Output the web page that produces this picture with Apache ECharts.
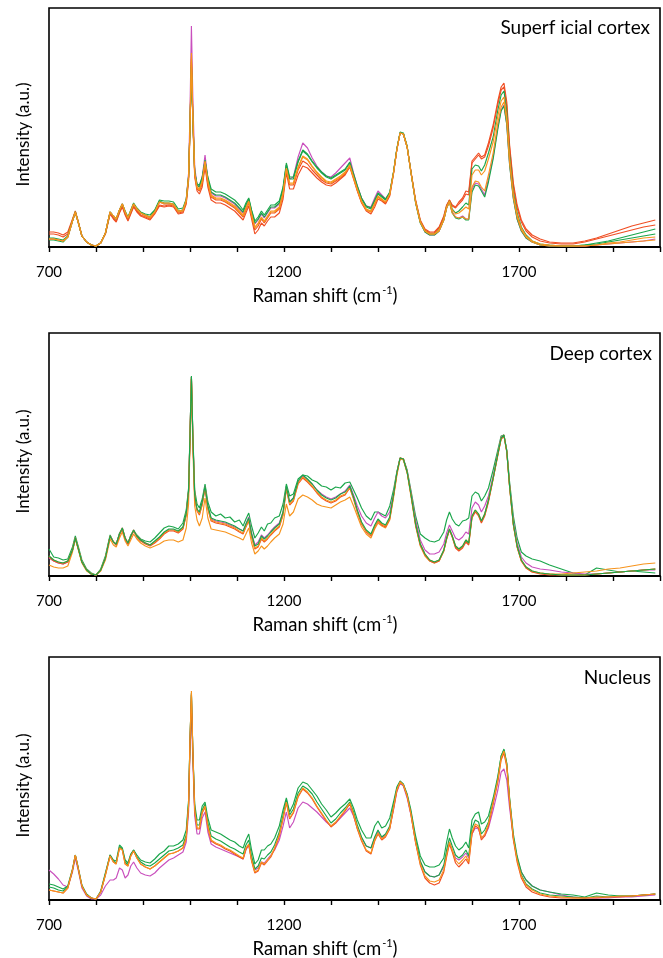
<!DOCTYPE html>
<html>
<head>
<meta charset="utf-8">
<script src="https://cdn.jsdelivr.net/npm/echarts@6/dist/echarts.min.js"></script>
<style>
  html, body { margin: 0; padding: 0; background: #fff; }
  #chart { width: 663px; height: 958px; }
</style>
</head>
<body>
<div id="chart"></div>
<script>
// Raman shift sampling points (cm-1), shared by all three spectra sets
const wavenumbers = [
  700,710,720,730,740,750,756,762,770,780,
  790,800,810,820,830,837,843,850,856,862,
  868,874,880,887,895,905,915,925,935,945,
  955,965,975,985,992,997,1000,1003,1006,1010,
  1015,1020,1026,1032,1038,1045,1055,1065,1075,1085,
  1095,1105,1113,1119,1125,1131,1138,1145,1152,1158,
  1165,1172,1180,1190,1198,1205,1212,1220,1230,1240,
  1250,1260,1270,1280,1290,1300,1310,1320,1330,1340,
  1348,1356,1365,1375,1385,1393,1400,1408,1416,1425,
  1433,1440,1447,1454,1462,1470,1480,1490,1500,1510,
  1520,1530,1540,1546,1552,1558,1565,1572,1580,1587,
  1593,1600,1607,1614,1620,1627,1635,1645,1655,1662,
  1668,1674,1680,1688,1696,1705,1715,1728,1745,1765,
  1790,1815,1840,1865,1890,1915,1940,1965,1990
];
const tickLabels = [700, 1200, 1700];

// ---- Superficial cortex spectra (arbitrary intensity units) ----
const supMagenta = [
  8,8,7,6,10,26,35,25,11,5, 2,1,4,14,35,31,28,37,43,35,
  29,36,43,38,34,31,29,35,45,43, 43,42,35,36,47,74,135,221,150,80,
  62,60,70,92,68,54,51,51,49,46, 43,38,34,41,47,35,23,27,33,29,
  34,39,39,43,57,82,68,70,90,104, 99,89,81,75,71,70,74,79,84,89,
  74,61,49,41,40,49,56,52,48,54, 74,97,114,113,100,75,45,25,15,12,
  12,16,27,39,46,35,30,29,31,28, 28,58,64,63,58,52,68,90,120,137,
  142,123,83,49,28,16,9,5,2,1, 1,1,1,2,3,4,5,6,8
];
const supRed1 = [
  15,15,14,12,15,28,36,26,11,5, 2,1,4,13,33,28,25,34,40,32,
  26,33,40,35,31,29,27,33,41,40, 41,40,33,34,43,66,116,185,126,70,
  56,53,60,80,60,47,44,44,42,39, 36,31,27,34,41,28,13,17,24,21,
  26,30,30,34,48,74,58,58,72,81, 79,74,69,65,62,61,64,68,72,80,
  68,56,44,36,33,40,48,46,43,51, 73,97,114,113,100,76,47,27,18,15,
  15,20,31,42,47,42,40,45,49,56, 55,86,90,94,90,92,104,122,146,160,
  164,145,102,64,42,27,18,12,8,5, 4,4,6,9,13,17,21,24,27
];
const supRed2 = [
  13,13,12,10,13,27,35,25,11,5, 2,1,4,13,34,29,26,35,41,33,
  27,34,41,36,32,30,28,34,42,41, 42,41,34,35,45,68,118,188,128,72,
  58,56,63,83,63,50,47,47,45,42, 39,34,30,37,44,31,17,21,28,24,
  29,34,34,38,52,77,62,62,77,86, 83,77,72,67,64,63,66,69,73,81,
  70,57,45,37,35,43,50,47,44,52, 74,97,114,113,100,76,46,26,17,14,
  14,19,30,41,47,41,39,43,47,53, 52,84,88,92,88,90,101,119,143,157,
  160,141,99,61,39,25,16,10,6,4, 3,3,5,8,11,14,17,20,22
];
const supGreen2 = [
  7,7,6,5,10,26,35,25,11,5, 2,1,4,14,35,31,28,37,43,36,
  30,37,44,39,35,33,32,37,47,46, 46,45,38,39,48,71,120,180,128,75,
  63,62,70,87,70,58,55,55,53,50, 47,42,37,44,49,37,26,30,36,32,
  37,42,42,46,60,84,70,70,86,97, 93,86,80,75,71,69,72,75,78,85,
  73,61,49,41,39,47,54,51,48,55, 75,98,115,114,101,75,44,24,15,12,
  12,16,27,39,45,34,29,28,30,27, 27,55,62,61,56,50,65,88,118,136,
  141,122,82,48,28,16,9,5,2,1, 1,1,2,3,5,7,9,11,13
];
const supGreen1 = [
  9,9,8,7,11,26,35,25,11,5, 2,1,4,14,35,31,28,37,43,35,
  29,36,43,38,34,32,30,36,46,44, 44,43,36,37,47,70,120,182,130,75,
  62,60,68,86,68,55,52,52,50,47, 44,39,35,42,48,36,24,28,34,30,
  35,40,40,44,58,82,68,68,85,96, 92,85,79,74,70,68,71,74,77,84,
  72,60,48,40,38,46,53,50,47,54, 75,98,114,113,100,75,45,25,16,13,
  13,17,28,40,46,38,34,36,40,44, 42,78,82,81,76,82,94,110,137,152,
  156,135,92,55,34,20,12,6,3,2, 1,1,2,4,6,9,12,15,18
];
const supOrange2 = [
  8,8,7,6,10,26,35,25,11,5, 2,1,4,14,35,31,28,37,43,35,
  29,36,43,38,34,32,30,35,45,44, 44,43,36,37,47,70,120,190,131,73,
  59,57,65,85,65,51,48,48,46,43, 40,35,31,38,45,32,19,23,29,25,
  30,35,35,39,53,78,63,63,79,90, 87,80,74,69,65,64,67,70,74,81,
  69,57,45,37,35,43,50,47,45,53, 74,97,114,113,100,75,45,25,16,13,
  13,16,27,39,45,34,30,29,30,28, 28,60,66,65,60,56,72,94,124,140,
  145,126,85,50,30,17,10,5,2,1, 1,1,1,2,3,4,5,6,7
];
const supOrange1 = [
  8,8,7,6,10,26,35,25,11,5, 2,1,4,14,35,31,28,37,43,35,
  29,36,43,38,34,31,29,35,45,43, 43,42,35,36,46,70,122,194,134,74,
  60,58,66,86,66,52,49,49,47,44, 41,36,32,39,46,33,20,24,30,26,
  31,36,36,40,54,79,64,64,80,91, 88,81,75,70,66,65,68,71,75,82,
  70,58,46,38,36,44,51,48,45,53, 74,97,114,113,100,75,45,25,16,13,
  13,17,28,40,46,37,33,34,37,40, 38,72,77,77,72,76,88,105,131,146,
  150,130,88,52,32,19,11,6,3,2, 1,1,1,2,4,5,7,9,10
];

// ---- Deep cortex spectra ----
const deepGreenHigh = [
  27,19,18,16,17,29,40,30,16,7, 3,1,7,20,41,34,31,43,47,38,
  32,41,45,41,37,35,34,38,43,48, 50,49,47,53,66,88,142,199,143,86,
  72,68,77,92,74,64,60,62,58,59, 54,56,50,57,63,50,38,43,49,45,
  52,53,58,60,72,92,80,82,97,101, 100,96,94,90,89,86,89,88,93,94,
  86,78,68,60,56,64,64,62,60,70, 86,104,118,117,106,86,60,42,38,35,
  34,36,44,56,64,57,52,50,55,56, 58,80,84,82,75,80,88,106,126,140,
  141,126,94,60,38,24,20,17,15,11, 7,3,1,8,6,4,5,4,3
];
const deepMagenta = [
  18,15,13,12,14,26,38,28,14,6, 2,1,6,18,40,34,32,42,48,38,
  33,40,46,40,36,33,31,34,38,43, 46,46,44,48,62,85,140,199,140,80,
  66,63,73,90,69,57,55,54,53,51, 49,47,45,52,59,43,31,34,41,38,
  41,45,49,53,64,89,74,78,94,100, 96,92,86,82,79,77,79,82,85,91,
  81,70,60,53,50,58,64,60,58,64, 82,103,118,117,105,84,56,36,26,22,
  22,24,32,43,51,45,38,36,39,44, 42,68,74,71,64,70,80,100,123,139,
  141,125,91,55,33,19,13,9,7,6, 4,3,2,2,3,4,5,6,6
];
const deepOrangeLow = [
  11,9,8,8,10,24,37,27,13,5, 2,1,5,16,37,31,29,38,44,35,
  30,36,42,37,33,30,28,30,32,35, 36,36,34,36,48,72,132,197,130,70,
  56,50,58,78,58,47,46,45,44,42, 40,38,36,42,48,33,22,25,30,27,
  30,34,38,42,52,72,60,64,77,81, 79,76,72,70,69,68,71,74,76,79,
  70,60,49,42,38,47,53,50,48,56, 78,100,117,116,103,80,50,30,20,15,
  13,15,25,37,46,39,29,26,29,35, 32,59,65,61,54,61,75,97,121,137,
  140,124,89,51,29,15,8,4,3,2, 2,3,4,5,7,8,10,12,13
];
const deepRed = [
  19,15,13,12,14,26,38,28,14,6, 2,1,6,18,40,34,31,41,47,37,
  32,39,45,39,35,32,30,33,37,42, 45,45,43,47,61,84,138,197,138,79,
  65,61,71,88,67,55,53,52,51,49, 47,44,42,49,55,39,27,29,37,34,
  37,41,45,49,61,87,71,75,92,98, 94,89,83,78,75,73,75,79,81,88,
  77,64,52,44,40,49,55,51,49,57, 80,102,118,117,104,82,51,31,21,15,
  13,15,25,37,46,39,28,25,28,34, 31,58,64,60,53,60,74,97,121,137,
  140,124,89,51,29,15,8,4,2,1, 1,1,1,2,3,4,5,6,7
];
const deepOrange = [
  20,16,14,13,15,26,38,28,14,6, 2,1,6,18,40,34,32,42,48,38,
  33,40,46,40,36,33,31,34,38,43, 46,46,44,48,62,85,140,199,140,80,
  66,62,72,89,68,56,54,53,52,50, 48,45,43,50,56,40,28,30,38,35,
  38,42,46,50,62,88,72,76,93,99, 95,90,84,79,76,74,76,80,82,89,
  78,65,53,45,41,50,56,52,50,58, 80,102,118,117,104,82,52,32,22,16,
  14,16,26,38,47,40,30,27,30,36, 33,60,66,62,55,62,76,98,122,138,
  141,125,90,52,30,16,9,5,3,2, 1,1,1,2,3,4,5,6,7
];
const deepGreen = [
  20,16,14,13,15,26,38,28,14,6, 2,1,6,18,40,34,32,42,48,38,
  33,40,46,40,36,33,31,35,39,44, 47,47,45,49,63,86,141,200,141,81,
  67,64,74,90,70,58,56,55,54,52, 50,47,45,52,58,42,30,32,40,37,
  40,44,48,52,64,90,74,78,95,101, 97,92,86,81,78,76,78,82,84,90,
  79,66,54,46,42,51,57,53,51,59, 81,103,118,117,104,82,52,32,22,16,
  14,16,26,38,47,40,30,27,30,36, 33,60,66,62,55,62,76,98,122,138,
  141,125,90,52,30,16,9,5,3,2, 1,1,1,2,3,4,5,6,7
];

// ---- Nucleus spectra ----
const nucMagenta = [
  30,26,21,15,13,28,42,30,12,4, 1,1,5,14,20,20,22,32,30,22,
  25,34,38,32,27,25,24,27,32,36, 40,42,45,48,58,88,150,190,140,84,
  66,66,82,88,68,56,53,51,49,47, 45,43,41,50,55,40,30,32,38,37,
  41,45,50,60,74,88,72,78,92,98, 96,92,88,83,78,74,77,82,87,92,
  84,72,62,54,52,62,68,62,65,72, 90,108,117,114,102,85,58,38,28,24,
  23,25,33,46,58,50,42,40,43,47, 42,66,72,71,62,64,72,90,110,128,
  131,120,92,62,42,28,20,14,10,8, 5,3,2,2,2,3,3,4,5
];
const nucGreenHigh = [
  16,15,13,11,14,31,45,33,15,6, 2,1,9,27,45,40,39,55,52,40,
  37,46,50,45,40,38,37,41,46,49, 54,54,56,60,70,100,160,205,150,96,
  80,80,94,98,82,70,68,66,63,60, 58,54,52,60,66,50,36,40,50,50,
  54,56,62,74,90,102,88,96,112,118, 116,110,104,96,90,83,87,92,96,101,
  92,80,70,62,62,74,79,72,74,82, 98,113,119,116,106,90,64,44,35,33,
  33,35,42,58,71,62,54,50,53,58, 52,80,86,88,76,78,84,102,124,144,
  151,137,102,66,44,28,20,14,10,8, 6,5,3,7,5,4,4,5,6
];
const nucGreenMid = [
  13,12,10,9,13,30,45,32,14,5, 2,1,8,26,45,39,37,53,51,38,
  35,45,50,43,38,35,34,37,41,45, 49,50,52,55,65,97,160,207,150,92,
  75,75,90,96,77,64,61,59,56,53, 51,48,46,55,60,44,31,34,42,41,
  45,48,55,68,85,100,85,91,107,114, 111,106,98,91,84,77,81,87,92,98,
  88,75,63,54,52,63,70,63,66,74, 94,111,118,115,105,88,60,39,28,24,
  23,25,35,50,62,54,45,42,45,50, 44,72,80,78,66,70,78,98,122,144,
  150,136,101,63,41,25,16,11,7,5, 4,3,2,4,3,4,4,5,6
];
const nucRed = [
  10,9,8,7,12,30,45,32,14,5, 2,1,8,25,44,38,36,52,50,36,
  34,44,49,42,36,33,31,34,38,42, 46,47,49,52,62,94,158,206,148,89,
  71,71,87,93,73,59,56,54,51,49, 46,43,41,51,55,39,27,29,37,35,
  39,43,51,64,81,97,81,87,103,111, 107,101,93,86,79,73,77,83,89,96,
  85,71,59,49,46,59,66,60,63,71, 91,109,118,115,104,86,57,35,22,17,
  15,17,28,43,56,48,37,33,37,41, 36,66,74,72,60,64,74,96,118,140,
  147,133,98,60,38,22,13,8,5,3, 2,2,2,2,3,3,4,5,6
];
const nucOrange = [
  10,9,8,7,12,30,45,32,14,5, 2,1,8,25,44,38,36,52,50,36,
  34,44,49,42,36,33,31,34,38,42, 46,47,49,52,62,95,160,209,150,90,
  72,72,88,94,74,60,57,55,52,50, 47,44,42,52,56,40,28,30,38,36,
  40,44,52,65,82,98,82,88,104,112, 108,102,94,87,80,74,78,84,90,97,
  86,72,60,50,47,60,67,61,64,72, 92,110,118,115,104,86,58,36,24,19,
  18,20,30,45,58,50,40,36,40,44, 38,68,76,74,62,66,76,98,120,142,
  149,135,100,62,40,24,15,10,6,4, 3,2,2,3,3,4,4,5,6
];

const MAGENTA = '#c94fbd';
const RED = '#f04e23';
const ORANGE = '#f7941d';
const GREEN = '#1aa64b';
const FONT = 'Lato';

const panels = [
  { top: 8, height: 239, title: 'Superf icial cortex', titleX: 650, titleY: 28,
    lines: [[supMagenta, MAGENTA], [supRed1, RED], [supRed2, RED], [supGreen2, GREEN],
            [supGreen1, GREEN], [supOrange2, ORANGE], [supOrange1, ORANGE]] },
  { top: 333, height: 243, title: 'Deep cortex', titleX: 652, titleY: 354,
    lines: [[deepGreenHigh, GREEN], [deepMagenta, MAGENTA], [deepOrangeLow, ORANGE],
            [deepRed, RED], [deepOrange, ORANGE], [deepGreen, GREEN]] },
  { top: 657, height: 243, title: 'Nucleus', titleX: 651, titleY: 678,
    lines: [[nucMagenta, MAGENTA], [nucGreenHigh, GREEN], [nucGreenMid, GREEN],
            [nucRed, RED], [nucOrange, ORANGE]] }
];

const grid = [], xAxis = [], yAxis = [], series = [], graphic = [];
panels.forEach((p, k) => {
  grid.push({ left: 49, right: -4, top: p.top, height: p.height, show: true,
              borderColor: '#000', borderWidth: 1.6, backgroundColor: 'transparent' });
  xAxis.push({
    type: 'value', gridIndex: k, min: 700, max: 2000, interval: 100,
    axisLine: { show: true, lineStyle: { color: '#000', width: 2 } },
    axisTick: { show: true, length: 5, lineStyle: { color: '#000', width: 1.4 } },
    axisLabel: { color: '#000', fontSize: 15, fontFamily: FONT, margin: 18,
                 formatter: v => tickLabels.includes(v) ? String(v) : '' },
    splitLine: { show: false }
  });
  yAxis.push({ type: 'value', gridIndex: k, min: 0, max: p.height,
               axisLine: { show: false }, axisTick: { show: false },
               axisLabel: { show: false }, splitLine: { show: false } });
  p.lines.forEach(([vals, color]) => {
    series.push({
      type: 'line', xAxisIndex: k, yAxisIndex: k, showSymbol: false, silent: true,
      data: wavenumbers.map((w, i) => [w, vals[i]]),
      lineStyle: { color: color, width: 1.15 }, itemStyle: { color: color },
      animation: false, z: 2
    });
  });
  const axisY = p.top + p.height;
  graphic.push({
    type: 'text', x: 325, y: axisY + 48, z: 10,
    style: { text: '{n|Raman shift (cm}{s|-1}{n|)}', textAlign: 'center', textVerticalAlign: 'middle',
      rich: { n: { fontSize: 18.5, fontFamily: FONT, fill: '#000', lineHeight: 22, verticalAlign: 'bottom' },
              s: { fontSize: 11, fontFamily: FONT, fill: '#000', lineHeight: 22, verticalAlign: 'top', padding: [1, 0, 0, 1] } } }
  });
  graphic.push({
    type: 'text', x: 24, y: p.top + p.height / 2 + 7, rotation: Math.PI / 2, z: 10,
    style: { text: 'Intensity (a.u.)', fill: '#000', font: '17px ' + FONT,
             textAlign: 'center', textVerticalAlign: 'middle' }
  });
  graphic.push({
    type: 'text', x: p.titleX, y: p.titleY, z: 10,
    style: { text: p.title, fill: '#000', font: '19px ' + FONT,
             textAlign: 'right', textVerticalAlign: 'middle' }
  });
});

const chart = echarts.init(document.getElementById('chart'), null, { renderer: 'canvas' });
chart.setOption({ animation: false, backgroundColor: '#fff', grid, xAxis, yAxis, series, graphic });
</script>
</body>
</html>
